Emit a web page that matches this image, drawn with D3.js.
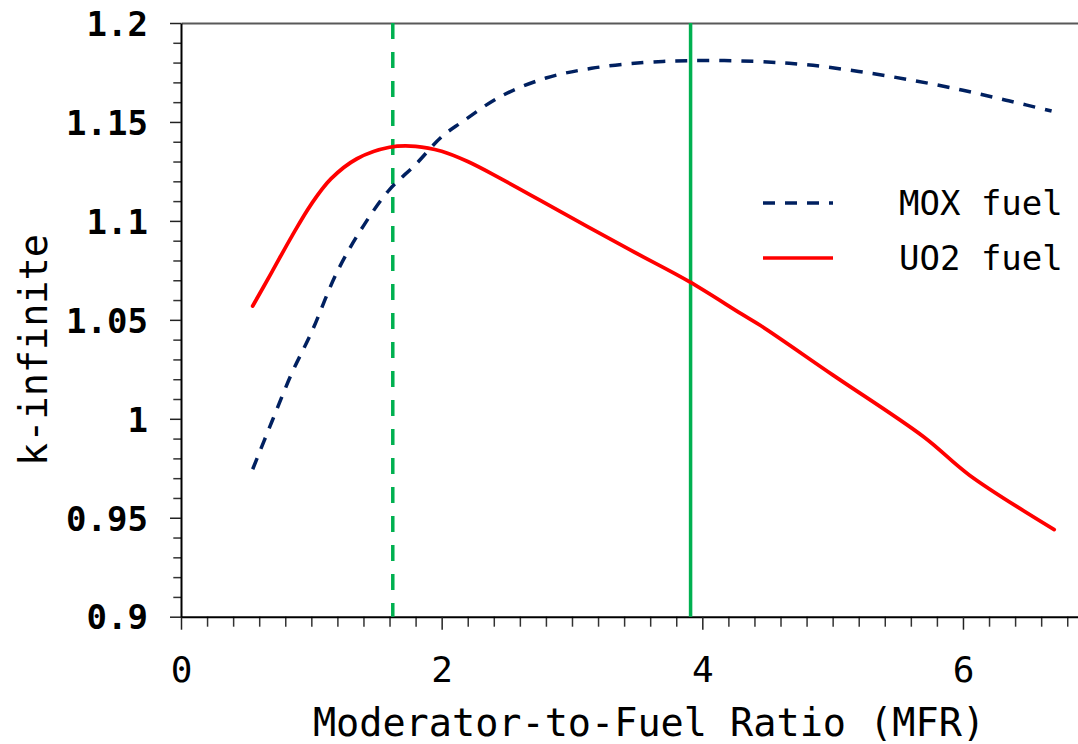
<!DOCTYPE html>
<html>
<head>
<meta charset="utf-8">
<script src="https://cdn.jsdelivr.net/npm/d3@7"></script>
<style>
  html, body { margin: 0; padding: 0; background: #fff; }
  svg { display: block; font-family: "DejaVu Sans Mono", monospace; }
</style>
</head>
<body>
<svg id="chart" width="1078" height="744"></svg>
<script>
// MOX fuel (dashed navy)
var mfrMOX = [0.55, 0.7, 0.85, 1.0, 1.2, 1.4, 1.6, 1.8, 2.0, 2.15, 2.45, 2.8, 3.15, 3.55, 3.9, 4.4, 4.8, 5.2, 5.6, 6.0, 6.35, 6.68];
var kMOX   = [0.9745, 0.999, 1.023, 1.0435, 1.0745, 1.0975, 1.1158, 1.1285, 1.1425, 1.1497, 1.1628, 1.1722, 1.1771, 1.1800, 1.1810, 1.1806, 1.1789, 1.1755, 1.1712, 1.1660, 1.1607, 1.1555];

// UO2 fuel (solid red)
var mfrUO2 = [0.55, 0.7, 0.85, 1.0, 1.15, 1.35, 1.6, 1.8, 2.0, 2.2, 2.45, 2.95, 3.45, 3.9, 4.3, 4.45, 5.0, 5.7, 6.05, 6.7];
var kUO2   = [1.057, 1.0745, 1.0922, 1.1085, 1.1212, 1.1314, 1.1372, 1.1377, 1.1352, 1.1300, 1.1215, 1.1033, 1.0852, 1.0693, 1.0530, 1.0470, 1.0222, 0.9908, 0.9715, 0.9440];

// vertical markers: optimum MFR for UO2 (dashed) and MOX (solid)
var markerMFR = [1.625, 3.91];

var xTicks = [0, 2, 4, 6];
var yTicks = [0.9, 0.95, 1, 1.05, 1.1, 1.15, 1.2];
var seriesNames = ["MOX fuel", "UO2 fuel"];

var svg = d3.select("#chart");

var x = d3.scaleLinear().domain([0, 7]).range([181, 1093.3]);
var y = d3.scaleLinear().domain([0.9, 1.2]).range([616.7, 23]);

var green = "#00b050", navy = "#002060", red = "#ff0000";

// top border
svg.append("g")
  .attr("transform", "translate(0," + y(1.2) + ")")
  .call(d3.axisTop(x).tickValues([]).tickSizeOuter(0))
  .select(".domain").attr("stroke", "#595959").attr("stroke-width", 2);

// x minor ticks
var xMinor = d3.range(0, 7, 0.2).filter(function (v) { return Math.abs(v / 2 - Math.round(v / 2)) > 0.01; });
svg.append("g")
  .attr("transform", "translate(0," + y(0.9) + ")")
  .call(d3.axisBottom(x).tickValues(xMinor).tickSize(10).tickSizeOuter(0).tickFormat(""))
  .call(function (g) {
    g.select(".domain").remove();
    g.selectAll(".tick line").attr("stroke", "#333").attr("stroke-width", 1.5);
  });

// x major axis
svg.append("g")
  .attr("transform", "translate(0," + y(0.9) + ")")
  .call(d3.axisBottom(x).tickValues(xTicks).tickSize(13).tickSizeOuter(0).tickFormat(d3.format("d")))
  .call(function (g) {
    g.select(".domain").attr("stroke", "#000").attr("stroke-width", 2);
    g.selectAll(".tick line").attr("stroke", "#222").attr("stroke-width", 1.5);
    g.selectAll(".tick text").attr("font-family", "DejaVu Sans Mono").attr("font-size", 36)
      .attr("fill", "#000").attr("dy", null).attr("y", 65);
  });

// y minor ticks
var yMinor = d3.range(0, 31).map(function (i) { return 0.9 + i * 0.01; })
  .filter(function (v, i) { return i % 5 !== 0; });
svg.append("g")
  .attr("transform", "translate(" + x(0) + ",0)")
  .call(d3.axisLeft(y).tickValues(yMinor).tickSize(7.7).tickSizeOuter(0).tickFormat(""))
  .call(function (g) {
    g.select(".domain").remove();
    g.selectAll(".tick line").attr("stroke", "#333").attr("stroke-width", 1.5);
  });

// y major axis
svg.append("g")
  .attr("transform", "translate(" + x(0) + ",0)")
  .call(d3.axisLeft(y).tickValues(yTicks).tickSize(11).tickSizeOuter(0).tickFormat(d3.format("")))
  .call(function (g) {
    g.select(".domain").attr("stroke", "#000").attr("stroke-width", 2);
    g.selectAll(".tick line").attr("stroke", "#222").attr("stroke-width", 1.5);
    g.selectAll(".tick text").attr("font-family", "DejaVu Sans Mono").attr("font-size", 34)
      .attr("font-weight", "bold").attr("fill", "#000").attr("x", -33).attr("dy", "0.36em");
  });

// vertical marker lines
svg.selectAll(".marker").data(markerMFR).enter().append("line")
  .attr("class", "marker")
  .attr("x1", function (d) { return x(d); }).attr("x2", function (d) { return x(d); })
  .attr("y1", y(1.2)).attr("y2", y(0.9))
  .attr("stroke", green).attr("stroke-width", 3.5)
  .attr("stroke-dasharray", function (d, i) { return i === 0 ? "16,13" : null; });

var line = d3.line()
  .x(function (d) { return x(d[0]); })
  .y(function (d) { return y(d[1]); })
  .curve(d3.curveCatmullRom.alpha(0.5));

svg.append("path")
  .datum(d3.zip(mfrMOX, kMOX))
  .attr("d", line).attr("fill", "none")
  .attr("stroke", navy).attr("stroke-width", 3.5).attr("stroke-dasharray", "12,10");

svg.append("path")
  .datum(d3.zip(mfrUO2, kUO2))
  .attr("d", line).attr("fill", "none")
  .attr("stroke", red).attr("stroke-width", 3.75).attr("stroke-linecap", "round");

// legend
var legend = svg.append("g");
var legendY = [203, 258];
legend.selectAll("line").data(seriesNames).enter().append("line")
  .attr("x1", 763).attr("x2", 833)
  .attr("y1", function (d, i) { return legendY[i]; }).attr("y2", function (d, i) { return legendY[i]; })
  .attr("stroke", function (d, i) { return i === 0 ? navy : red; })
  .attr("stroke-width", 3.5)
  .attr("stroke-dasharray", function (d, i) { return i === 0 ? "12,10" : null; });
legend.selectAll("text").data(seriesNames).enter().append("text")
  .attr("x", 899).attr("y", function (d, i) { return legendY[i] + 12; })
  .attr("font-size", 34).attr("fill", "#000")
  .text(function (d) { return d; });

// axis titles
svg.append("text")
  .attr("x", 649).attr("y", 736)
  .attr("text-anchor", "middle").attr("font-size", 38.5).attr("fill", "#000")
  .text("Moderator-to-Fuel Ratio (MFR)");

svg.append("text")
  .attr("transform", "translate(47,350) rotate(-90)")
  .attr("text-anchor", "middle").attr("font-size", 38.5).attr("fill", "#000")
  .text("k-infinite");
</script>
</body>
</html>
